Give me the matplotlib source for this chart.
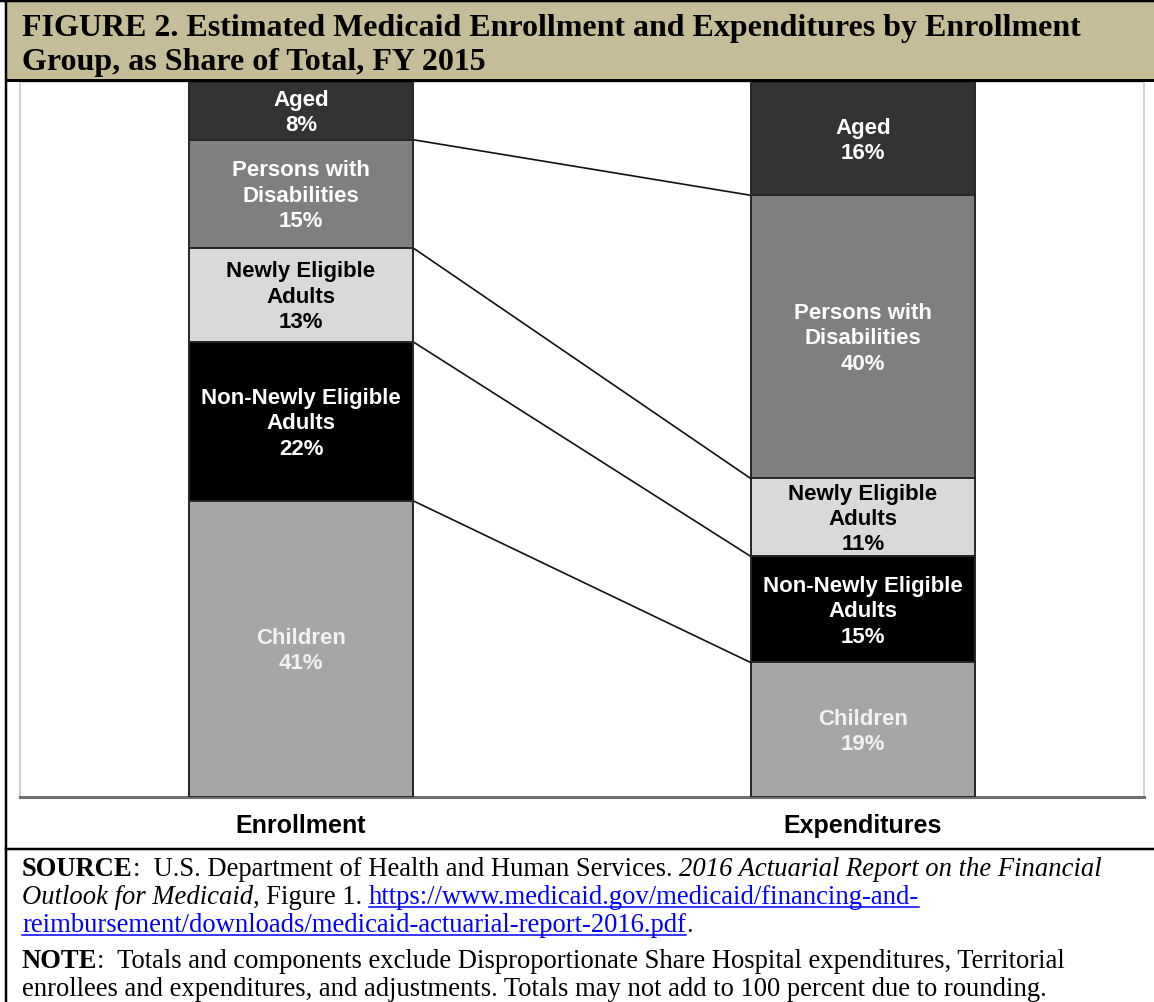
import matplotlib
matplotlib.use("Agg")
import matplotlib.pyplot as plt
from matplotlib.patches import Rectangle
from matplotlib.lines import Line2D
from matplotlib.transforms import IdentityTransform

# values, top segment first
groups = ["Aged", "Persons with\nDisabilities", "Newly Eligible\nAdults",
          "Non-Newly Eligible\nAdults", "Children"]
enrollment = [8, 15, 13, 22, 41]
expenditures = [16, 40, 11, 15, 19]
categories = ["Enrollment", "Expenditures"]

title_lines = ["FIGURE 2. Estimated Medicaid Enrollment and Expenditures by Enrollment",
               "Group, as Share of Total, FY 2015"]

seg_colors = ["#333333", "#7F7F7F", "#D9D9D9", "#000000", "#A6A6A6"]
txt_colors = ["white", "white", "black", "white", "#F2F2F2"]

W, H = 1154, 1002
SERIF = "Liberation Serif"
SANS = "Liberation Sans"


def px(x, y):
    """pixel from top-left -> figure fraction"""
    return x / W, 1 - y / H


def shares(vals):
    tot = sum(vals)
    return [v / tot * 100 for v in vals]


def stacked_bar(ax, xpos, vals, width):
    """draw one stacked bar (top segment first), return boundaries"""
    sh = shares(vals)
    bottoms = []
    b = 100.0
    for v, raw, grp, c, tc in zip(sh, vals, groups, seg_colors, txt_colors):
        b -= v
        ax.bar(xpos, v, width, bottom=b, color=c, edgecolor="#262626",
               linewidth=1.4, zorder=3)
        ax.text(xpos, b + v / 2 - 0.3, f"{grp}\n{raw}%", ha="center", va="center",
                color=tc, fontsize=16, fontweight="bold", family=SANS,
                linespacing=1.28, zorder=4)
        bottoms.append(b)
    return bottoms[:-1]


fig = plt.figure(figsize=(W / 100, H / 100), dpi=100)

# title band
fig.patches.append(Rectangle(px(6, 80), (W - 6) / W, 80 / H, transform=fig.transFigure,
                             facecolor="#C4BD97", edgecolor="none", zorder=0))
for i, line in enumerate(title_lines):
    fig.text(*px(22, 36 + i * 34), line, family=SERIF, fontweight="bold",
             fontsize=23, va="baseline", ha="left")

# box lines
for (x0, y0, x1, y1, lw) in [(0, 1, W, 1, 2.5), (6, 80, W, 80, 3),
                             (6, 849, W, 849, 2.5), (6, 0, 6, H, 2.5)]:
    fig.add_artist(Line2D([x0 / W, x1 / W], [1 - y0 / H, 1 - y1 / H],
                          transform=fig.transFigure, color="black", linewidth=lw * 0.72))

# chart area
ax = fig.add_axes([20 / W, 1 - 797 / H, (1144 - 20) / W, (797 - 82) / H])
ax.set_xlim(-0.5, 1.5)
ax.set_ylim(0, 100)
ax.set_xticks([])
ax.set_yticks([])
for s in ["left", "right", "top"]:
    ax.spines[s].set_color("#C8C8C8")
    ax.spines[s].set_linewidth(1.2)
ax.spines["bottom"].set_color("#707070")
ax.spines["bottom"].set_linewidth(2.2)

bw = 0.40
b_enr = stacked_bar(ax, 0, enrollment, bw)
b_exp = stacked_bar(ax, 1, expenditures, bw)
for y0, y1 in zip(b_enr, b_exp):
    ax.plot([bw / 2, 1 - bw / 2], [y0, y1], color="#111111", linewidth=1.2, zorder=2)

for i, cat in enumerate(categories):
    fig.text(*px(20 + (1144 - 20) * (0.25 + 0.5 * i), 826), cat, family=SANS,
             fontweight="bold", fontsize=18, ha="center", va="center")

# source / note block with mixed styles
renderer = fig.canvas.get_renderer()


def run_width(txt, props):
    t = fig.text(0, 0, txt + ".", transform=IdentityTransform(), **props)
    d = fig.text(0, 0, ".", transform=IdentityTransform(), **props)
    w = t.get_window_extent(renderer).width - d.get_window_extent(renderer).width
    t.remove()
    d.remove()
    return w


FS = 19.2
base = dict(family=SERIF, fontsize=FS, va="baseline", ha="left")
styles = {
    "n": {},
    "b": {"fontweight": "bold"},
    "i": {"fontstyle": "italic"},
    "l": {"color": "#0000FF"},
}
source_lines = [
    (876, [("SOURCE", "b"), (":  U.S. Department of Health and Human Services. ", "n"),
           ("2016 Actuarial Report on the Financial", "i")]),
    (904, [("Outlook for Medicaid", "i"), (", Figure 1. ", "n"),
           ("https://www.medicaid.gov/medicaid/financing-and-", "l")]),
    (932, [("reimbursement/downloads/medicaid-actuarial-report-2016.pdf", "l"), (".", "n")]),
    (968, [("NOTE", "b"), (":  Totals and components exclude Disproportionate Share "
                           "Hospital expenditures, Territorial", "n")]),
    (996, [("enrollees and expenditures, and adjustments. Totals may not add to 100 "
            "percent due to rounding.", "n")]),
]
for y, runs in source_lines:
    x = 22
    for txt, st in runs:
        props = dict(base, **styles[st])
        fig.text(x, H - y, txt, transform=IdentityTransform(), **props)
        w = run_width(txt, props)
        if st == "l":
            fig.add_artist(Line2D([x, x + w], [H - y - 3, H - y - 3],
                                  transform=IdentityTransform(), color="#0000FF",
                                  linewidth=1.1))
        x += w

fig.savefig("out.png", dpi=100)
